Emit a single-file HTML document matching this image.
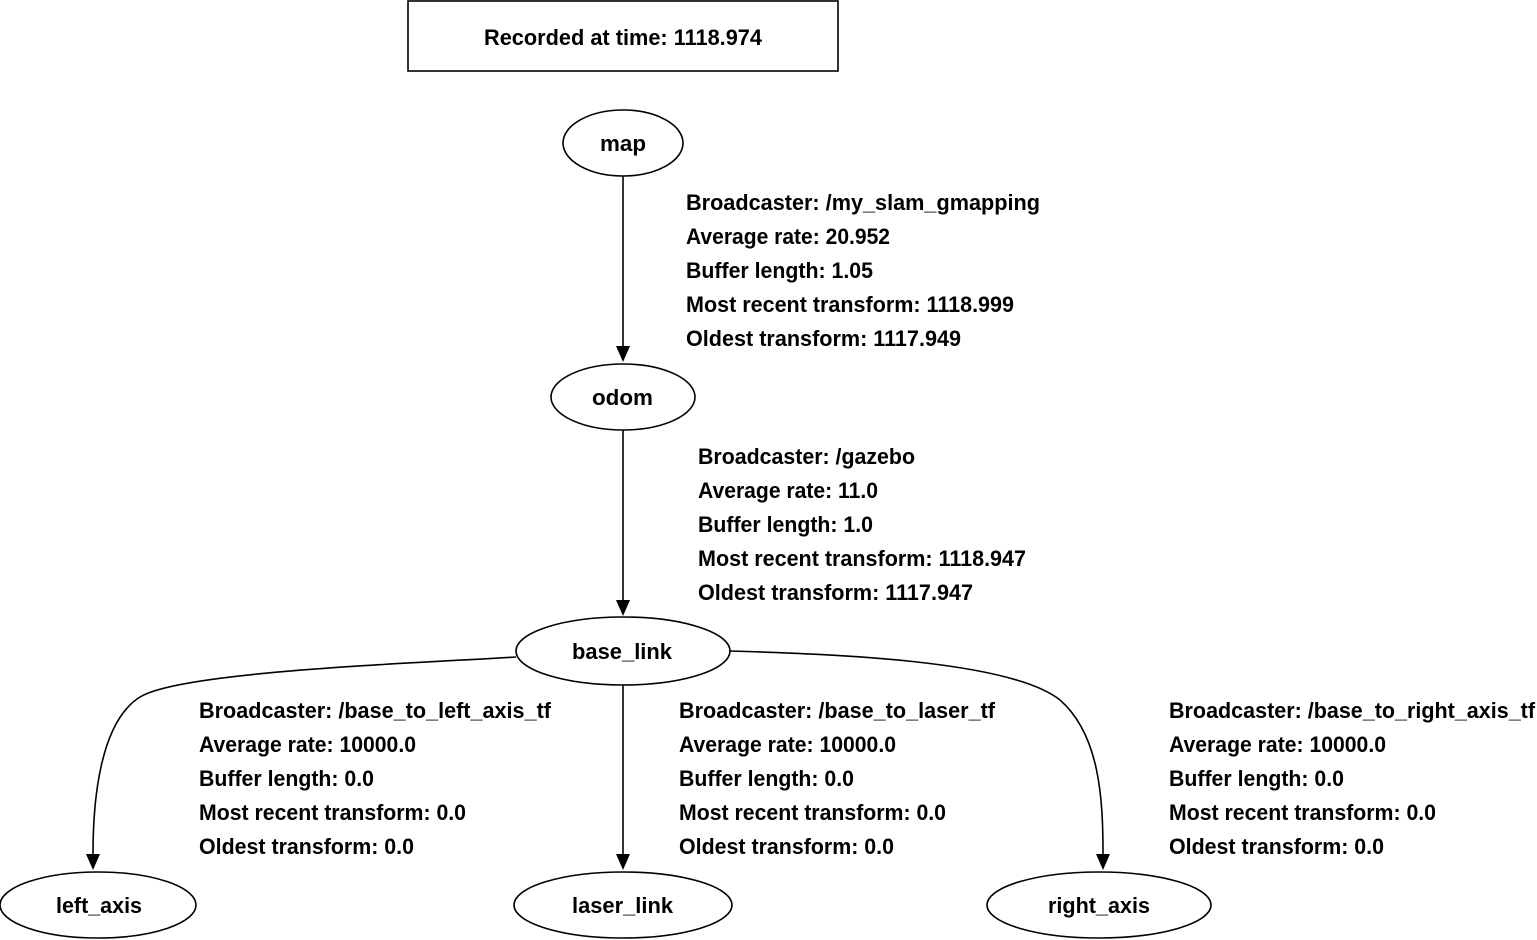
<!DOCTYPE html>
<html><head><meta charset="utf-8"><style>html,body{margin:0;padding:0;background:#fff}svg{display:block}</style></head><body>
<svg width="1537" height="940" viewBox="0 0 1537 940" xmlns="http://www.w3.org/2000/svg" font-family="Liberation Sans, sans-serif" font-weight="bold" font-size="22" fill="#000">
<defs><marker id="a" markerWidth="10" markerHeight="10" refX="9" refY="5" orient="auto" markerUnits="userSpaceOnUse"><path d="M0,0 L10,5 L0,10 z" fill="#000"/></marker></defs>
<g fill="none" stroke="#000" stroke-width="1.6">
<rect x="408" y="1" width="430" height="70"/>
<ellipse cx="623" cy="143" rx="60" ry="33"/>
<ellipse cx="623" cy="397" rx="72" ry="33"/>
<ellipse cx="623" cy="651" rx="107" ry="34"/>
<ellipse cx="98" cy="905" rx="98" ry="33"/>
<ellipse cx="623" cy="905" rx="109" ry="33"/>
<ellipse cx="1099" cy="905" rx="112" ry="33"/>
<path d="M623,176 L623,346"/>
<path d="M623,430 L623,600"/>
<path d="M623,685 L623,854"/>
<path d="M516,657 C400,664 180,672 140,697 C100,722 93,800 93,854"/>
<path d="M730,651 C830,654 1010,660 1060,700 C1100,735 1103,800 1103,854"/>
</g>
<g fill="#000">
<path d="M616,346 L630,346 L623,362 z"/>
<path d="M616,600 L630,600 L623,616 z"/>
<path d="M616,854 L630,854 L623,870 z"/>
<path d="M86,854 L100,854 L93,870 z"/>
<path d="M1096,854 L1110,854 L1103,870 z"/>
</g>
<g lengthAdjust="spacingAndGlyphs">
<text x="484" y="45" textLength="278" lengthAdjust="spacingAndGlyphs">Recorded at time: 1118.974</text>
<text x="600" y="151" textLength="46" lengthAdjust="spacingAndGlyphs">map</text>
<text x="592" y="405" textLength="61" lengthAdjust="spacingAndGlyphs">odom</text>
<text x="572" y="659" textLength="100" lengthAdjust="spacingAndGlyphs">base_link</text>
<text x="56" y="913" textLength="86" lengthAdjust="spacingAndGlyphs">left_axis</text>
<text x="572" y="913" textLength="101" lengthAdjust="spacingAndGlyphs">laser_link</text>
<text x="1048" y="913" textLength="102" lengthAdjust="spacingAndGlyphs">right_axis</text>

<text x="686" y="210" textLength="354" lengthAdjust="spacingAndGlyphs">Broadcaster: /my_slam_gmapping</text>
<text x="686" y="244" textLength="204" lengthAdjust="spacingAndGlyphs">Average rate: 20.952</text>
<text x="686" y="278" textLength="187" lengthAdjust="spacingAndGlyphs">Buffer length: 1.05</text>
<text x="686" y="312" textLength="328" lengthAdjust="spacingAndGlyphs">Most recent transform: 1118.999</text>
<text x="686" y="346" textLength="275" lengthAdjust="spacingAndGlyphs">Oldest transform: 1117.949</text>

<text x="698" y="464" textLength="217" lengthAdjust="spacingAndGlyphs">Broadcaster: /gazebo</text>
<text x="698" y="498" textLength="180" lengthAdjust="spacingAndGlyphs">Average rate: 11.0</text>
<text x="698" y="532" textLength="175" lengthAdjust="spacingAndGlyphs">Buffer length: 1.0</text>
<text x="698" y="566" textLength="328" lengthAdjust="spacingAndGlyphs">Most recent transform: 1118.947</text>
<text x="698" y="600" textLength="275" lengthAdjust="spacingAndGlyphs">Oldest transform: 1117.947</text>

<text x="199" y="718" textLength="352" lengthAdjust="spacingAndGlyphs">Broadcaster: /base_to_left_axis_tf</text>
<text x="199" y="752" textLength="217" lengthAdjust="spacingAndGlyphs">Average rate: 10000.0</text>
<text x="199" y="786" textLength="175" lengthAdjust="spacingAndGlyphs">Buffer length: 0.0</text>
<text x="199" y="820" textLength="267" lengthAdjust="spacingAndGlyphs">Most recent transform: 0.0</text>
<text x="199" y="854" textLength="215" lengthAdjust="spacingAndGlyphs">Oldest transform: 0.0</text>

<text x="679" y="718" textLength="316" lengthAdjust="spacingAndGlyphs">Broadcaster: /base_to_laser_tf</text>
<text x="679" y="752" textLength="217" lengthAdjust="spacingAndGlyphs">Average rate: 10000.0</text>
<text x="679" y="786" textLength="175" lengthAdjust="spacingAndGlyphs">Buffer length: 0.0</text>
<text x="679" y="820" textLength="267" lengthAdjust="spacingAndGlyphs">Most recent transform: 0.0</text>
<text x="679" y="854" textLength="215" lengthAdjust="spacingAndGlyphs">Oldest transform: 0.0</text>

<text x="1169" y="718" textLength="366" lengthAdjust="spacingAndGlyphs">Broadcaster: /base_to_right_axis_tf</text>
<text x="1169" y="752" textLength="217" lengthAdjust="spacingAndGlyphs">Average rate: 10000.0</text>
<text x="1169" y="786" textLength="175" lengthAdjust="spacingAndGlyphs">Buffer length: 0.0</text>
<text x="1169" y="820" textLength="267" lengthAdjust="spacingAndGlyphs">Most recent transform: 0.0</text>
<text x="1169" y="854" textLength="215" lengthAdjust="spacingAndGlyphs">Oldest transform: 0.0</text>
</g>
</svg>
</body></html>
